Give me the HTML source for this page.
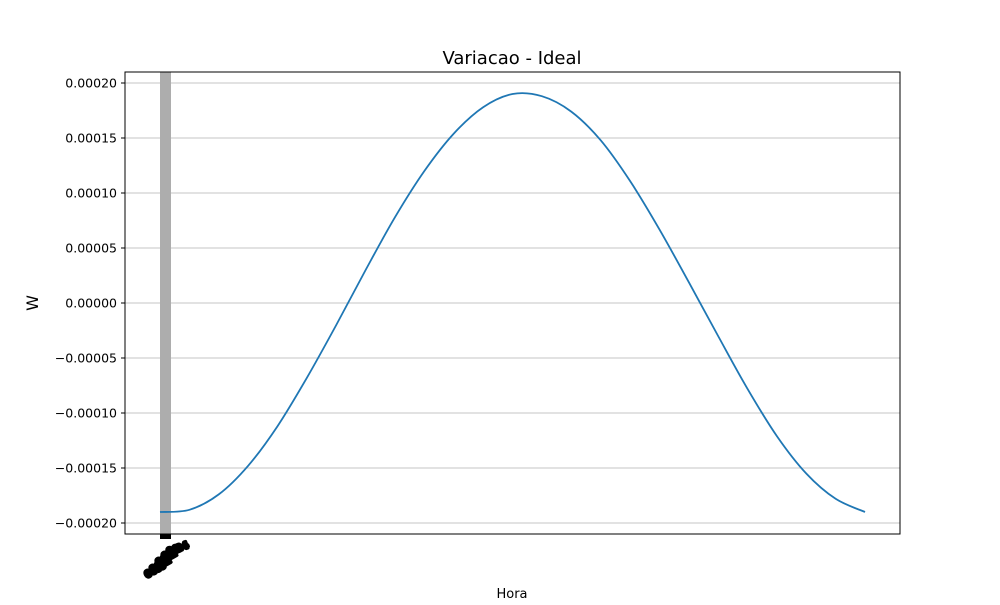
<!DOCTYPE html>
<html><head><meta charset="utf-8"><style>
body{margin:0;background:#fff;font-family:"Liberation Sans","DejaVu Sans",sans-serif}
svg text{font-family:"DejaVu Sans","Liberation Sans",sans-serif}
</style></head><body>
<svg id="c" width="1000" height="600" viewBox="0 0 1000 600">
<rect width="1000" height="600" fill="#fff"/>
<g id="grid"></g>
<rect x="160" y="72" width="11" height="462" fill="#adadad"/>
<path id="line" fill="none" stroke="#1f77b4" stroke-width="1.8"/>
<rect x="125" y="72" width="775" height="462" fill="none" stroke="#000" stroke-width="1"/>
<rect x="160" y="534" width="11" height="5" fill="#000"/>
<g id="yt"></g>
<g font-weight="bold" font-size="9" fill="#000" stroke="#000" stroke-width="3.5" stroke-linejoin="round">
<text transform="translate(147,578) rotate(-30)">00:0</text>
<text transform="translate(152,573) rotate(-30)">00:1</text>
<text transform="translate(158,566) rotate(-30)">00:2</text>
<text transform="translate(164,560) rotate(-30)">00:3</text>
<text transform="translate(168,555) rotate(-20)">00:4</text>
</g>
<text x="512" y="64" text-anchor="middle" font-size="18">Variacao - Ideal</text>
<text x="512" y="598" text-anchor="middle" font-size="13">Hora</text>
<text transform="translate(38,303) rotate(-90)" text-anchor="middle" font-size="16">W</text>
</svg>
<script>
const yTicks=[0.0002,0.00015,0.0001,0.00005,0,-0.00005,-0.0001,-0.00015,-0.0002];
const yTickLabels=["0.00020","0.00015","0.00010","0.00005","0.00000","\u22120.00005","\u22120.00010","\u22120.00015","\u22120.00020"];
const values=[-19.0,-18.8,-17.4,-14.8,-11.2,-6.8,-2.0,3.0,7.8,12.0,15.4,17.8,19.0,18.8,17.4,14.8,11.1,6.7,1.9,-3.0,-7.8,-12.1,-15.5,-17.8,-19.0];
const scaleExp=1e-5;
const NS="http://www.w3.org/2000/svg";
function y(v){return 303-v*(220/0.0002);}
function x(i){return 160+i*(705/(values.length-1));}
const g=document.getElementById('grid'),yt=document.getElementById('yt');
yTicks.forEach((t,k)=>{
 const l=document.createElementNS(NS,'line');
 
 
 l.setAttribute('x1',125);l.setAttribute('x2',900);l.setAttribute('y1',y(t));l.setAttribute('y2',y(t));
 l.setAttribute('stroke','#b0b0b0');l.setAttribute('stroke-width','0.8');g.appendChild(l);
 const tk=document.createElementNS(NS,'line');
 
 
 tk.setAttribute('x1',121);tk.setAttribute('x2',125);tk.setAttribute('y1',y(t));tk.setAttribute('y2',y(t));
 tk.setAttribute('stroke','#000');yt.appendChild(tk);
 const tx=document.createElementNS(NS,'text');
 
 
 tx.setAttribute('x',117);tx.setAttribute('y',y(t)+4.5);tx.setAttribute('text-anchor','end');tx.setAttribute('font-size','12.5');
 tx.textContent=yTickLabels[k];yt.appendChild(tx);
});
const p=values.map((v,i)=>[x(i),y(v*scaleExp)]);
let d='M'+p[0][0]+','+p[0][1];
for(let i=0;i<p.length-1;i++){
 const p0=p[Math.max(0,i-1)],p1=p[i],p2=p[i+1],p3=p[Math.min(p.length-1,i+2)];
 const c1=[p1[0]+(p2[0]-p0[0])/6,p1[1]+(p2[1]-p0[1])/6];
 const c2=[p2[0]-(p3[0]-p1[0])/6,p2[1]-(p3[1]-p1[1])/6];
 d+=' C'+c1+' '+c2+' '+p2;
}
document.getElementById('line').setAttribute('d',d);
</script>
</body></html>
